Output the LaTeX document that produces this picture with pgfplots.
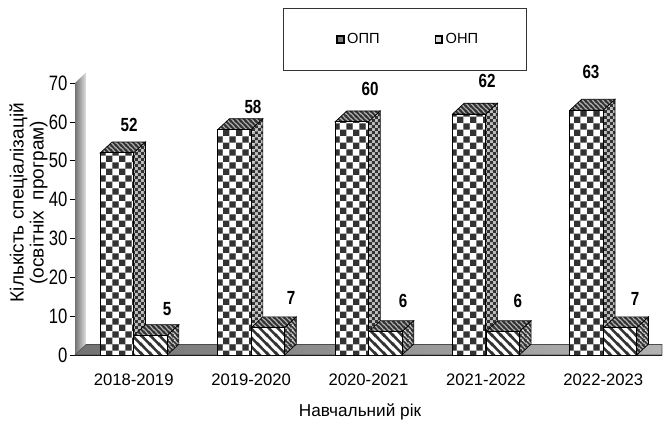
\documentclass[border=0pt]{standalone}
\usepackage{fontspec}
\setmainfont{Liberation Sans}
\usepackage{graphicx}
\usepackage{pgfplots}
\usepackage{pgfplotstable}
\pgfplotsset{compat=1.18}
\usetikzlibrary{patterns}

% large checkerboard for the front of the first series
\pgfdeclarepatterninherentlycolored{frontchk}{\pgfqpoint{0pt}{0pt}}{\pgfqpoint{10pt}{10pt}}{\pgfqpoint{10pt}{10pt}}{
  \pgfsetfillcolor{white}
  \pgfpathrectangle{\pgfqpoint{0pt}{0pt}}{\pgfqpoint{10pt}{10pt}}\pgfusepath{fill}
  \pgfsetfillcolor{black!80}
  \pgfpathrectangle{\pgfqpoint{0pt}{0pt}}{\pgfqpoint{5pt}{5pt}}\pgfusepath{fill}
  \pgfpathrectangle{\pgfqpoint{5pt}{5pt}}{\pgfqpoint{5pt}{5pt}}\pgfusepath{fill}
}
% small checkerboard for the sides
\pgfdeclarepatterninherentlycolored{sidechk}{\pgfqpoint{0pt}{0pt}}{\pgfqpoint{4.4pt}{4.4pt}}{\pgfqpoint{4.4pt}{4.4pt}}{
  \pgfsetfillcolor{black!25}
  \pgfpathrectangle{\pgfqpoint{0pt}{0pt}}{\pgfqpoint{4.4pt}{4.4pt}}\pgfusepath{fill}
  \pgfsetfillcolor{black!80}
  \pgfpathrectangle{\pgfqpoint{0pt}{0pt}}{\pgfqpoint{2.2pt}{2.2pt}}\pgfusepath{fill}
  \pgfpathrectangle{\pgfqpoint{2.2pt}{2.2pt}}{\pgfqpoint{2.2pt}{2.2pt}}\pgfusepath{fill}
}
% stripes: \declstripes{name}{tile}{line width}{background}
\newcommand{\declstripes}[4]{%
  \pgfdeclarepatterninherentlycolored{#1}{\pgfqpoint{0pt}{0pt}}{\pgfqpoint{#2}{#2}}{\pgfqpoint{#2}{#2}}{
    \pgfsetfillcolor{#4}
    \pgfpathrectangle{\pgfqpoint{0pt}{0pt}}{\pgfqpoint{#2}{#2}}\pgfusepath{fill}
    \pgfsetstrokecolor{black!80}
    \pgfsetlinewidth{#3}
    \pgfpathmoveto{\pgfqpoint{-1pt}{1pt}}\pgfpathlineto{\pgfqpoint{1pt}{-1pt}}
    \pgfpathmoveto{\pgfpoint{-1pt}{#2+1pt}}\pgfpathlineto{\pgfpoint{#2+1pt}{-1pt}}
    \pgfpathmoveto{\pgfpoint{#2-1pt}{#2+1pt}}\pgfpathlineto{\pgfpoint{#2+1pt}{#2-1pt}}
    \pgfusepath{stroke}
  }}
\declstripes{frontstr}{6.6pt}{1.9pt}{white}
\declstripes{sidestr}{3.4pt}{1.3pt}{black!25}
\declstripes{topstr}{3.6pt}{1.4pt}{black!30}

% one bar = 0.285 categories wide, depth = 0.1 categories and 2.8 units
\newcommand{\faces}[4]{% x left, value, top pattern, side pattern
  \pgfmathsetmacro\xr{#1+0.285}
  \pgfmathsetmacro\xb{#1+0.1}
  \pgfmathsetmacro\xc{#1+0.385}
  \pgfmathsetmacro\vb{#2+2.8}
  \addplot[forget plot, draw=black, line width=0.5pt, pattern=#3] coordinates {(#1,#2) (\xr,#2) (\xc,\vb) (\xb,\vb)} --cycle;
  \addplot[forget plot, draw=black, line width=0.5pt, pattern=#4] coordinates {(\xr,0) (\xc,2.8) (\xc,\vb) (\xr,#2)} --cycle;
}
% room left of a legend marker, nothing drawn
\newcommand{\legendroom}{\pgfpathmoveto{\pgfqpoint{-6pt}{0pt}}\pgfusepath{discard}}

\pgfplotstableread{
x    opp onp
0.5  52  5
1.5  58  7
2.5  60  6
3.5  62  6
4.5  63  7
}\datatab

\begin{document}
\begin{tikzpicture}[x=1pt,y=1pt]
\path[use as bounding box] (0,0) rectangle (497.25pt,317.25pt);
\begin{axis}[
  at={(56.25pt,51pt)},
  anchor=south west,
  scale only axis,
  width=440.25pt,
  height=204pt,
  clip=false,
  xmin=0, xmax=5,
  ymin=0, ymax=70,
  axis x line*=bottom,
  axis y line*=left,
  axis line style={-, black, line width=0.6pt},
  tick align=outside,
  tick style={black, line width=0.5pt},
  major tick length=4pt,
  ytick={0,10,...,70},
  xtick={0.5,1.5,2.5,3.5,4.5},
  xticklabels={2018-2019,2019-2020,2020-2021,2021-2022,2022-2023},
  x tick style={draw=none},
  extra x ticks={0,1,2,3,4,5},
  extra x tick labels={},
  extra x tick style={tick style={black, line width=0.5pt}, major tick length=5pt},
  /pgf/number format/assume math mode=true,
  yticklabel={\scalebox{1}[1.25]{\pgfmathprintnumber{\tick}}},
  yticklabel style={font=\fontsize{12.5pt}{14pt}\selectfont, inner sep=1.5pt},
  xticklabel style={font=\fontsize{12.5pt}{14pt}\selectfont, yshift=-6.5pt},
  xlabel={Навчальний рік},
  ylabel={Кількість спеціалізацій\\(освітніх\ \ програм)},
  every axis x label/.style={at={(axis description cs:0.4855,-0.2096)}, anchor=center, font=\fontsize{12.9pt}{15pt}\selectfont},
  every axis y label/.style={at={(axis description cs:-0.079,0.56)}, anchor=center, rotate=90, align=center, font=\fontsize{14.3pt}{15pt}\selectfont},
  legend columns=2,
  legend style={
    at={(0.3543,1.2757)}, anchor=north west,
    draw=black!80, line width=0.7pt,
    inner xsep=34pt, inner ysep=16.75pt,
    font=\fontsize{11pt}{13pt}\selectfont,
    /tikz/every even column/.append style={column sep=33.75pt},
  },
]
% back wall and floor
\addplot[forget plot, draw=none, left color=black!55, right color=black!12] coordinates {(0,0) (0,70) (0.094,72.7) (0.094,2.7)} --cycle;
\addplot[forget plot, draw=black!70, line width=0.4pt, left color=black!55, right color=black!30] coordinates {(0,0) (0.094,2.7) (5,2.7) (5,0)} --cycle;

% first series
\pgfplotsforeachungrouped \c/\v in {0.215/52, 1.215/58, 2.215/60, 3.215/62, 4.215/63} {
  \faces{\c}{\v}{topstr}{sidechk}
}
\addplot[ybar, bar width=25.1pt, bar shift=-12.55pt, draw=black, line width=0.7pt, pattern=frontchk,
  legend image code/.code={\legendroom \draw[black, line width=1.2pt, fill=black!50] (0pt,-2.6pt) rectangle (5.2pt,2.6pt);}]
  table[x=x, y=opp] {\datatab};
\addlegendentry{ОПП}

% second series
\pgfplotsforeachungrouped \c/\v in {0.5/5, 1.5/7, 2.5/6, 3.5/6, 4.5/7} {
  \faces{\c}{\v}{topstr}{sidestr}
}
\addplot[ybar, bar width=25.1pt, bar shift=12.55pt, draw=black, line width=0.5pt, pattern=frontstr,
  legend image code/.code={\legendroom \draw[black, line width=1.2pt, fill=black!15] (0pt,-2.6pt) rectangle (5.2pt,2.6pt);}]
  table[x=x, y=onp] {\datatab};
\addlegendentry{ОНП}

% value labels stand where the reference has them
\addplot[forget plot, draw=none, mark=none, point meta=explicit symbolic,
  nodes near coords={\scalebox{1}[1.25]{\pgfplotspointmeta}},
  every node near coord/.style={anchor=center, inner sep=0pt, font=\bfseries\fontsize{11.4pt}{13pt}\selectfont}]
  coordinates {
  (0.46,59.2) [52]
  (0.784,11.8) [5]
  (1.516,63.8) [58]
  (1.84,14.7) [7]
  (2.513,68.5) [60]
  (2.794,13.9) [6]
  (3.51,70.5) [62]
  (3.773,13.9) [6]
  (4.395,72.8) [63]
  (4.77,14.4) [7]
};
\end{axis}
\end{tikzpicture}
\end{document}
